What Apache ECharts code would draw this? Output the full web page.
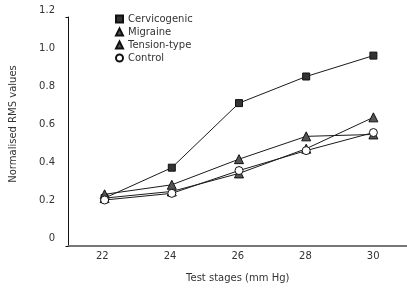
<!DOCTYPE html>
<html>
<head>
<meta charset="utf-8">
<script src="https://cdn.jsdelivr.net/npm/echarts@6/dist/echarts.min.js"></script>
<style>
  html, body { margin: 0; padding: 0; background: #fff; }
  #chart { width: 407px; height: 290px; }
</style>
</head>
<body>
<div id="chart"></div>
<script>
// test stages (mm Hg)
const stages = ['22', '24', '26', '28', '30'];
// normalised RMS values per group
const cervicogenic = [0.21, 0.37, 0.71, 0.85, 0.96];
const migraine = [0.21, 0.245, 0.34, 0.47, 0.635];
const tensionType = [0.23, 0.28, 0.415, 0.535, 0.545];
const control = [0.20, 0.235, 0.355, 0.46, 0.555];

const font = 'DejaVu Sans';
const chart = echarts.init(document.getElementById('chart'));

const lineSeries = (name, data, symbol, size, fill) => ({
  name: name,
  type: 'line',
  data: data,
  symbol: symbol,
  symbolSize: size,
  xAxisIndex: 0,
  yAxisIndex: 0,
  lineStyle: { color: '#1a1a1a', width: 1 },
  itemStyle: { color: fill, borderColor: '#111', borderWidth: 1 },
  emphasis: { disabled: true }
});

chart.setOption({
  animation: false,
  textStyle: { fontFamily: font },
  legend: {
    orient: 'vertical',
    left: 110,
    top: 9,
    itemWidth: 7,
    itemHeight: 7,
    itemGap: 3,
    textStyle: { fontSize: 10, color: '#333', fontFamily: font },
    data: [
      { name: 'Cervicogenic', icon: 'rect' },
      { name: 'Migraine', icon: 'triangle' },
      { name: 'Tension-type', icon: 'triangle' },
      { name: 'Control', icon: 'circle' }
    ]
  },
  grid: [
    // data + tick labels (0 at y=238, 1.2 at y=10)
    { left: 68.5, right: -8, top: 10, bottom: 52 },
    // visible axis lines
    { left: 68.5, right: -8, top: 17, bottom: 44 }
  ],
  xAxis: [{
    type: 'category',
    gridIndex: 0,
    data: stages,
    axisLine: { show: false },
    axisTick: { show: false },
    axisLabel: { show: false },
    splitLine: { show: false }
  }, {
    type: 'category',
    gridIndex: 1,
    data: stages,
    name: 'Test stages (mm Hg)',
    nameLocation: 'middle',
    nameGap: 27,
    nameTextStyle: { fontSize: 10, color: '#333', fontFamily: font },
    axisLine: { lineStyle: { color: '#777', width: 2 } },
    axisTick: { show: false },
    axisLabel: { fontSize: 10, color: '#333', margin: 5, fontFamily: font },
    splitLine: { show: false }
  }],
  yAxis: [{
    type: 'value',
    gridIndex: 0,
    min: 0,
    max: 1.2,
    interval: 0.2,
    name: 'Normalised RMS values',
    nameLocation: 'middle',
    nameGap: 53,
    nameTextStyle: { fontSize: 10, color: '#333', fontFamily: font },
    axisLine: { show: false },
    axisTick: { show: false },
    splitLine: { show: false },
    axisLabel: {
      fontSize: 10, color: '#333', margin: 16, fontFamily: font,
      formatter: v => (v === 0 ? '0' : v.toFixed(1))
    }
  }, {
    type: 'value',
    gridIndex: 1,
    min: 0,
    max: 1.2,
    interval: 1.2,
    axisLine: { show: true, lineStyle: { color: '#111', width: 1 } },
    axisTick: { show: true, inside: false, length: 3, lineStyle: { color: '#111' } },
    axisLabel: { show: false },
    splitLine: { show: false }
  }],
  series: [
    lineSeries('Cervicogenic', cervicogenic, 'rect', 7, '#333'),
    lineSeries('Migraine', migraine, 'triangle', 9, '#555'),
    lineSeries('Tension-type', tensionType, 'triangle', 9, '#555'),
    lineSeries('Control', control, 'circle', 8, '#fff')
  ]
});
</script>
</body>
</html>
